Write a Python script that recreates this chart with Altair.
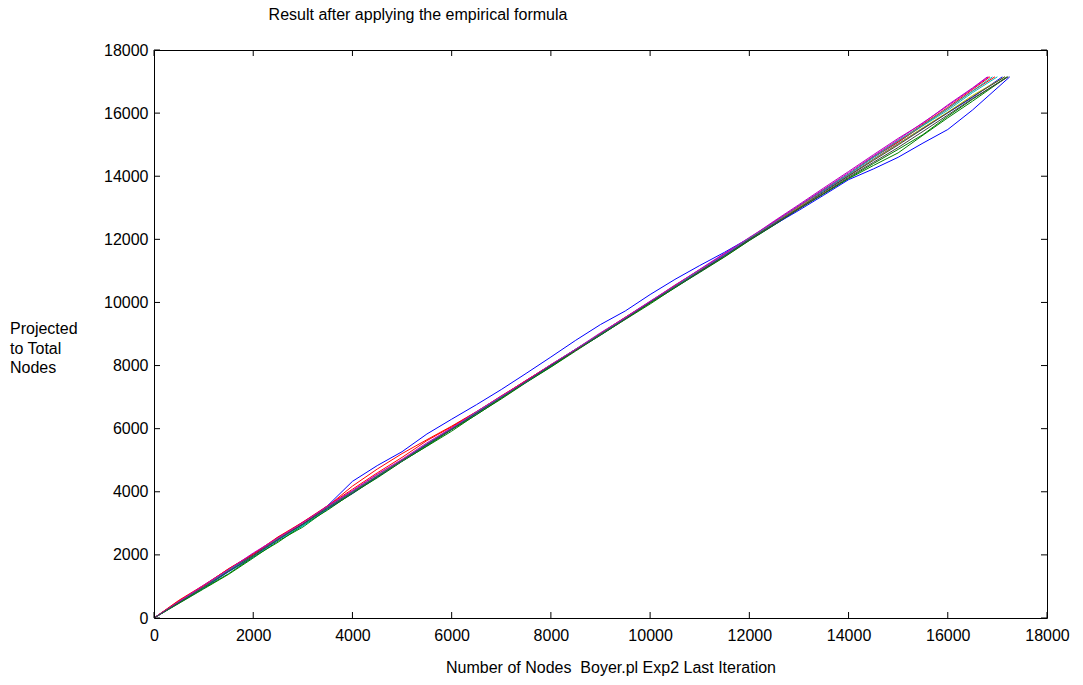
import altair as alt
import pandas as pd

# ---------------- data ----------------
x_nodes = [0, 500, 1000, 1500, 2000, 2500, 3000, 3500, 4000, 4500, 5000, 5500,
           6000, 6500, 7000, 7500, 8000, 8500, 9000, 9500, 10000, 10500, 11000,
           11500, 12000, 12500, 13000, 13500, 14000, 14500, 15000, 15500, 16000, 16500]

series_names = ["b1", "g1", "r1", "c1", "m1", "y1", "k1", "b2", "g2", "r2", "c2", "m2", "k2"]
series_colors = ["#0000FF", "#008000", "#FF0000", "#00BFBF", "#BF00BF",
                 "#BFBF00", "#404040", "#0000FF", "#008000", "#FF0000",
                 "#00BFBF", "#BF00BF", "#404040"]

y_b1 = [0, 520, 970, 1540, 1980, 2560, 2960, 3560, 4330, 4830, 5270, 5830, 6300, 6760, 7240, 7750, 8270,
        8800, 9300, 9730, 10250, 10730, 11170, 11590, 12040, 12520, 13010, 13530, 14020, 14540, 15030,
        15520, 16010, 16500]
y_g1 = [0, 460, 920, 1380, 1900, 2440, 2880, 3450, 3940, 4460, 4970, 5440, 5920, 6450, 6940, 7460, 7950,
        8460, 8970, 9460, 9950, 10470, 10950, 11440, 11960, 12450, 12960, 13440, 13920, 14340, 14740,
        15300, 15850, 16380]
y_r1 = [0, 560, 1040, 1550, 2020, 2540, 3020, 3540, 4180, 4720, 5210, 5650, 6080, 6540, 7020, 7530, 8010,
        8520, 9000, 9520, 10010, 10530, 11020, 11540, 12030, 12560, 13050, 13580, 14060, 14620, 15110,
        15650, 16180, 16750]
y_c1 = [0, 480, 940, 1460, 1920, 2470, 2910, 3460, 3970, 4480, 4990, 5470, 5980, 6500, 6990, 7510, 8000,
        8490, 9010, 9500, 9990, 10520, 11010, 11530, 12020, 12540, 13060, 13550, 14070, 14590, 15080,
        15600, 16090, 16650]
y_m1 = [0, 530, 1010, 1540, 2030, 2520, 3040, 3530, 4020, 4540, 5010, 5520, 6030, 6510, 7020, 7530, 8020,
        8510, 9020, 9530, 10040, 10530, 11050, 11560, 12040, 12580, 13100, 13630, 14150, 14680, 15200,
        15680, 16260, 16800]
y_y1 = [0, 490, 980, 1500, 1970, 2510, 2980, 3500, 3990, 4510, 5000, 5480, 6000, 6490, 7000, 7480, 7990,
        8500, 8980, 9490, 10000, 10490, 11010, 11500, 11990, 12510, 13020, 13500, 14010, 14530, 15020,
        15540, 16030, 16560]
y_k1 = [0, 500, 980, 1510, 1990, 2500, 2980, 3510, 4000, 4490, 5000, 5490, 6010, 6500, 6990, 7500, 7990,
        8500, 9010, 9500, 9990, 10500, 10990, 11500, 12010, 12500, 12990, 13500, 14010, 14500, 14990,
        15500, 16010, 16520]
y_b2 = [0, 480, 960, 1470, 1950, 2480, 2960, 3470, 3950, 4480, 4970, 5490, 5970, 6480, 6990, 7470, 7980,
        8490, 8970, 9480, 10000, 10480, 10970, 11490, 11980, 12460, 12920, 13400, 13890, 14230, 14600,
        15050, 15480, 16100]
y_g2 = [0, 470, 940, 1400, 1930, 2400, 2940, 3420, 3960, 4440, 4960, 5450, 5970, 6440, 6960, 7470, 7960,
        8480, 8960, 9470, 9980, 10460, 10970, 11450, 11970, 12460, 12970, 13450, 13940, 14400, 14850,
        15320, 15900, 16440]
y_r2 = [0, 540, 1020, 1560, 2030, 2570, 3040, 3560, 4080, 4600, 5090, 5620, 6060, 6530, 7040, 7520, 8030,
        8510, 9020, 9530, 10020, 10540, 11030, 11520, 12040, 12530, 13050, 13570, 14060, 14600, 15080,
        15620, 16140, 16700]
y_c2 = [0, 510, 970, 1520, 1950, 2500, 2940, 3490, 3980, 4500, 4980, 5510, 5990, 6520, 7000, 7490, 8010,
        8520, 9000, 9510, 10020, 10500, 11030, 11510, 12040, 12530, 13060, 13580, 14060, 14600, 15130,
        15620, 16150, 16700]
y_m2 = [0, 520, 1040, 1530, 2060, 2540, 3020, 3550, 4040, 4560, 5030, 5550, 6020, 6540, 7030, 7510, 8030,
        8520, 9040, 9520, 10030, 10550, 11040, 11530, 12060, 12550, 13070, 13590, 14110, 14640, 15160,
        15700, 16230, 16780]
y_k2 = [0, 490, 970, 1480, 1960, 2490, 2970, 3480, 3970, 4490, 4980, 5500, 5980, 6490, 6980, 7490, 8000,
        8480, 8990, 9480, 10000, 10490, 10980, 11470, 11990, 12480, 12970, 13460, 13970, 14440, 14910,
        15420, 15940, 16460]

# final point of each run (last node count reached, projected total)
end_x = [17100, 17200, 16850, 17000, 16800, 17150, 17150, 17250, 17200, 16950, 16900, 16820, 17220]
end_y = [17150, 17150, 17150, 17150, 17150, 17150, 17150, 17150, 17150, 17150, 17150, 17150, 17150]

tick_values = [0, 2000, 4000, 6000, 8000, 10000, 12000, 14000, 16000, 18000]

title_text = ["Result after applying the empirical formula"]
x_title_text = ["Number of Nodes\u00a0 Boyer.pl Exp2 Last Iteration"]
y_title_lines = ["Projected", "to Total", "Nodes"]

# ---------------- build table ----------------
all_y = [y_b1, y_g1, y_r1, y_c1, y_m1, y_y1, y_k1, y_b2, y_g2, y_r2, y_c2, y_m2, y_k2]
rows = []
for i, name in enumerate(series_names):
    for j, (xv, yv) in enumerate(zip(x_nodes, all_y[i])):
        rows.append({"x": xv, "y": yv, "series": name, "idx": j})
    rows.append({"x": end_x[i], "y": end_y[i], "series": name, "idx": len(x_nodes)})
df = pd.DataFrame(rows)

W, H = 893, 568
FONT = "Liberation Sans"
FS = 16

xscale = alt.Scale(domain=[0, 18000], nice=False, zero=False)
yscale = alt.Scale(domain=[0, 18000], nice=False, zero=False)

lines = alt.Chart(df).mark_line(strokeWidth=1).encode(
    x=alt.X("x:Q", scale=xscale,
            axis=alt.Axis(values=tick_values, title=None, grid=False, ticks=False, tickSize=0,
                          domain=False, labelPadding=9, labelFont=FONT, labelFontSize=FS,
                          labelColor="black", labelFlush=False, format="d")),
    y=alt.Y("y:Q", scale=yscale,
            axis=alt.Axis(values=tick_values, title=None, grid=False, ticks=False, tickSize=0,
                          domain=False, labelPadding=6, labelFont=FONT, labelFontSize=FS,
                          labelColor="black", format="d")),
    color=alt.Color("series:N", scale=alt.Scale(domain=series_names, range=series_colors), legend=None),
    order="idx:Q",
)

tick_df = pd.DataFrame({"x": tick_values, "y": tick_values})
TL = 6
bottom_ticks = alt.Chart(tick_df).mark_rule(color="black", strokeWidth=1).encode(
    x=alt.X("x:Q", scale=xscale), y=alt.value(H), y2=alt.value(H - TL))
top_ticks = alt.Chart(tick_df).mark_rule(color="black", strokeWidth=1).encode(
    x=alt.X("x:Q", scale=xscale), y=alt.value(0), y2=alt.value(TL))
left_ticks = alt.Chart(tick_df).mark_rule(color="black", strokeWidth=1).encode(
    y=alt.Y("y:Q", scale=yscale), x=alt.value(0), x2=alt.value(TL))
right_ticks = alt.Chart(tick_df).mark_rule(color="black", strokeWidth=1).encode(
    y=alt.Y("y:Q", scale=yscale), x=alt.value(W), x2=alt.value(W - TL))

title = alt.Chart(pd.DataFrame({"t": title_text})).mark_text(
    font=FONT, fontSize=FS, color="black", align="center", baseline="middle"
).encode(text="t:N", x=alt.value(264), y=alt.value(-35))

x_title = alt.Chart(pd.DataFrame({"t": x_title_text})).mark_text(
    font=FONT, fontSize=FS, color="black", align="center", baseline="middle"
).encode(text="t:N", x=alt.value(457), y=alt.value(618))

y_title_pos = [279, 299, 318]
y_title_layers = [
    alt.Chart(pd.DataFrame({"t": [line]})).mark_text(
        font=FONT, fontSize=FS, color="black", align="left", baseline="middle"
    ).encode(text="t:N", x=alt.value(-144), y=alt.value(pos))
    for line, pos in zip(y_title_lines, y_title_pos)
]

chart = alt.layer(
    lines, bottom_ticks, top_ticks, left_ticks, right_ticks, title, x_title, *y_title_layers
).properties(
    width=W, height=H,
    autosize=alt.AutoSizeParams(type="none"),
    padding={"left": 154, "top": 50, "right": 36, "bottom": 67},
    background="white",
).configure_view(stroke="black", strokeWidth=1)

chart.save("out.html", embed_options={"renderer": "svg", "actions": False})
